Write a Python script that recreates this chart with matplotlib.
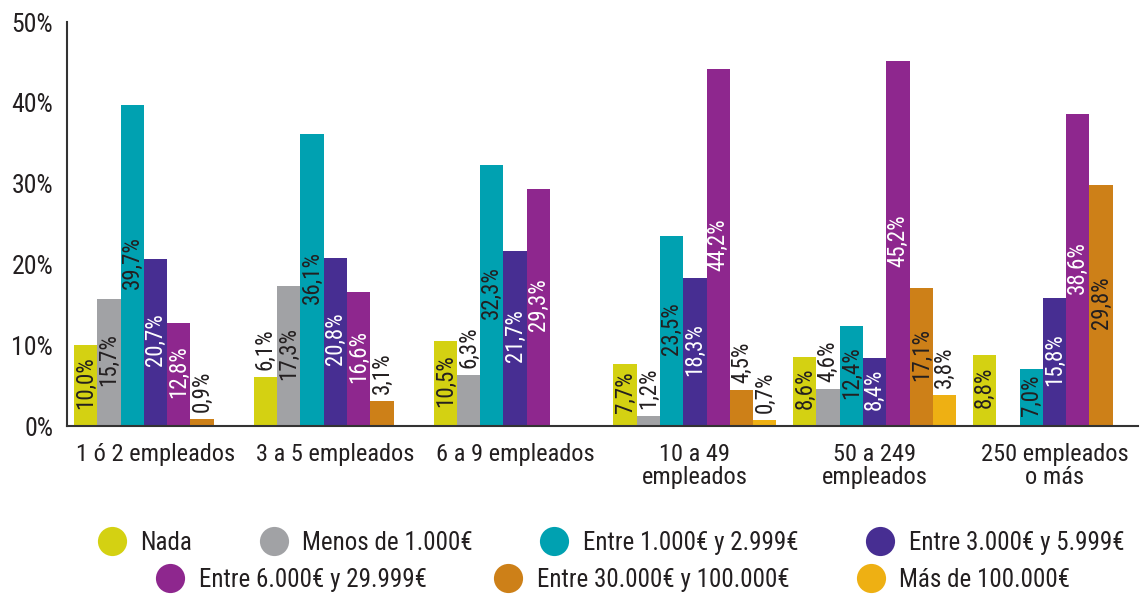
import numpy as np
import matplotlib
matplotlib.use("Agg")
import matplotlib.pyplot as plt
from matplotlib.lines import Line2D
from matplotlib.ticker import FuncFormatter

plt.rcParams['font.family'] = ['Roboto Condensed', 'DejaVu Sans']

categories = ["1 ó 2 empleados", "3 a 5 empleados", "6 a 9 empleados",
              "10 a 49\nempleados", "50 a 249\nempleados", "250 empleados\no más"]
series_names = ["Nada", "Menos de 1.000€", "Entre 1.000€ y 2.999€", "Entre 3.000€ y 5.999€",
                "Entre 6.000€ y 29.999€", "Entre 30.000€ y 100.000€", "Más de 100.000€"]
nada = [10.0, 6.1, 10.5, 7.7, 8.6, 8.8]
menos_1000 = [15.7, 17.3, 6.3, 1.2, 4.6, np.nan]
e1000_2999 = [39.7, 36.1, 32.3, 23.5, 12.4, 7.0]
e3000_5999 = [20.7, 20.8, 21.7, 18.3, 8.4, 15.8]
e6000_29999 = [12.8, 16.6, 29.3, 44.2, 45.2, 38.6]
e30000_100000 = [0.9, 3.1, np.nan, 4.5, 17.1, 29.8]
mas_100000 = [np.nan, np.nan, np.nan, 0.7, 3.8, np.nan]
yticks = [0, 10, 20, 30, 40, 50]

series = [nada, menos_1000, e1000_2999, e3000_5999, e6000_29999, e30000_100000, mas_100000]
colors = ["#D4D112", "#A1A2A5", "#00A1B1", "#472E92", "#8E278E", "#CD8018", "#EEB013"]
inside_text = ["#231F20", "#231F20", "#231F20", "white", "white", "#231F20", "#231F20"]
dark = "#231F20"

W, H = 1140, 595
fig = plt.figure(figsize=(W / 100, H / 100), dpi=100)
ax = fig.add_axes([67 / W, (H - 426) / H, (1138 - 67) / W, (426 - 22) / H])

n = len(series)
bw = 0.1296
x = np.arange(len(categories))
for j, (vals, c) in enumerate(zip(series, colors)):
    xs = x + (j - (n - 1) / 2) * bw
    v = np.array(vals, dtype=float)
    ax.bar(xs, v, width=bw, color=c, linewidth=0)
    for xi, vi in zip(xs, v):
        if np.isnan(vi):
            continue
        lab = f"{vi:.1f}".replace('.', ',') + '%'
        if vi >= 7:
            ax.text(xi, vi / 2 + 0.35, lab, rotation=90, ha='center', va='center',
                    color=inside_text[j], fontsize=16.5)
        else:
            ax.annotate(lab, xy=(xi, vi), xytext=(0, 5), textcoords='offset points',
                        rotation=90, ha='center', va='bottom', color=dark, fontsize=16.5)

ax.set_xlim((67 - 155.5) / 179.8, (1138 - 155.5) / 179.8)
ax.set_ylim(0, 50)
ax.set_yticks(yticks)
ax.yaxis.set_major_formatter(FuncFormatter(lambda v, p: f"{v:.0f}%"))
ax.set_xticks(x)
ax.set_xticklabels(categories, fontsize=17.6, color=dark, linespacing=1.0)
ax.tick_params(axis='y', length=0, pad=10, labelsize=18.5, labelcolor=dark)
ax.tick_params(axis='x', length=0, pad=12)
for s in ['top', 'right']:
    ax.spines[s].set_visible(False)
for s in ['left', 'bottom']:
    ax.spines[s].set_color('#333333')
    ax.spines[s].set_linewidth(1.5)

def handles(idx):
    return [Line2D([], [], marker='o', linestyle='none', markersize=21,
                   markerfacecolor=colors[i], markeredgewidth=0) for i in idx]

row1 = [0, 1, 2, 3]
row2 = [4, 5, 6]
kw = dict(frameon=False, fontsize=18, handlelength=1.3, handletextpad=0.5,
          columnspacing=2.6, labelcolor=dark, borderpad=0, borderaxespad=0)
fig.legend(handles(row1), [series_names[i] for i in row1], ncol=4,
           loc='center', bbox_to_anchor=(610 / W, (H - 543) / H), **kw)
fig.legend(handles(row2), [series_names[i] for i in row2], ncol=3,
           loc='center', bbox_to_anchor=(612 / W, (H - 580) / H), **kw)

fig.savefig("out.png", dpi=100)
